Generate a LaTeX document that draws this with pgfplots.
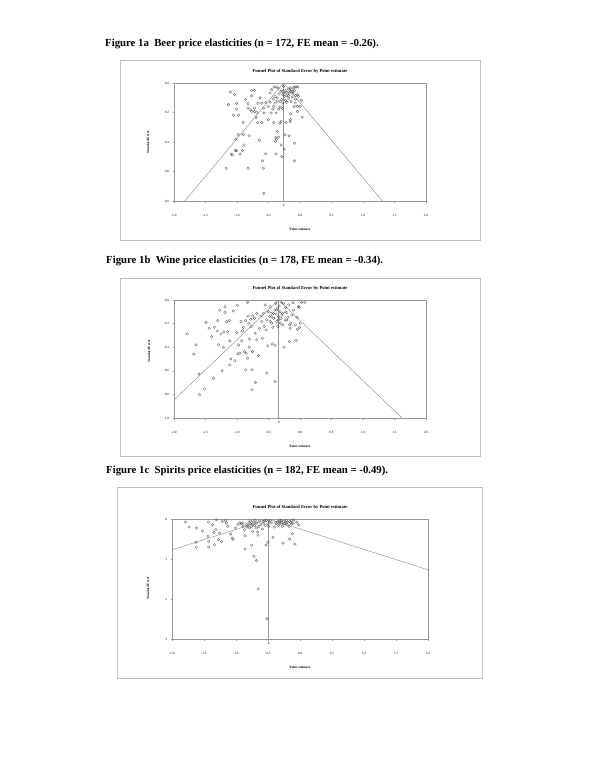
\documentclass[border=0pt]{standalone}
\usepackage{fontspec}
\setmainfont{Liberation Serif}
\usepackage{pgfplots}
\pgfplotsset{compat=1.18}

\definecolor{framegray}{RGB}{192,192,192}
\definecolor{axgray}{RGB}{150,150,150}
\definecolor{ptgray}{RGB}{85,85,85}

\pgfplotsset{
  funnel/.style={
    scale only axis,
    y dir=reverse,
    xmin=-2, xmax=2,
    xtick={-2,-1.5,-1,-0.5,0,0.5,1,1.5,2},
    /pgf/number format/assume math mode=true,
    xticklabel style={/pgf/number format/fixed,/pgf/number format/fixed zerofill,/pgf/number format/precision=1,yshift=-8bp},
    tick label style={font=\fontsize{3.3}{4}\selectfont},
    axis line style={axgray,line width=0.5pt},
    tick style={axgray,line width=0.3pt},
    major tick length=1.5bp,
    tick align=outside,
    xtick pos=lower, ytick pos=left,
    clip=false,
  },
  pts/.style={only marks, mark=o, mark size=1.3bp, mark options={ptgray,line width=0.3pt}},
  fl/.style={axgray, line width=0.5pt, no marks},
}

\newcommand{\capfont}{\fontsize{10.8}{12}\selectfont\bfseries}
\newcommand{\ttlfont}{\fontsize{4.6}{5.5}\selectfont\bfseries}
\newcommand{\lblfont}{\fontsize{3.4}{4}\selectfont\bfseries}

\begin{document}
\begin{tikzpicture}
\path[use as bounding box] (0,0) rectangle (600bp,-776bp);

% ---------- Figure 1a ----------
\node[anchor=west,inner sep=0] at (105bp,-44bp) {\capfont Figure 1a\enspace Beer price elasticities (n = 172, FE mean = -0.26).};
\draw[framegray,line width=0.8pt] (120bp,-60bp) rectangle (480bp,-240bp);
\node at (300bp,-71bp) {\ttlfont Funnel Plot of Standard Error by Point estimate};
\node[rotate=90] at (148bp,-142bp) {\lblfont Standard Error};
\node at (300bp,-229bp) {\lblfont Point estimate};
\begin{axis}[funnel, at={(174bp,-201bp)}, anchor=south west,
  width=252bp, height=118bp, ymin=0, ymax=0.8,
  ytick={0,0.2,0.4,0.6,0.8},
  yticklabel style={/pgf/number format/fixed,/pgf/number format/fixed zerofill,/pgf/number format/precision=1}]
\addplot[fl] coordinates {(-1.828,0.8) (-0.26,0) (1.308,0.8)};
\addplot[fl] coordinates {(-0.26,0) (-0.26,0.8)};
\node[font=\fontsize{3.3}{4}\selectfont,anchor=north] at (axis cs:-0.26,0.8) {0};
\addplot[pts] coordinates {
(-1.105,0.061) (-1.040,0.079) (-1.136,0.147) (-1.004,0.138) (-1.009,0.177)
(-1.057,0.218) (-0.977,0.218) (-0.903,0.268) (-0.983,0.349) (-0.898,0.349)
(-1.020,0.381) (-1.094,0.481) (-1.073,0.488) (-1.025,0.458) (-1.004,0.458)
(-0.951,0.481) (-0.914,0.458) (-0.887,0.420) (-1.174,0.578) (-0.824,0.578)
(-0.866,0.111) (-0.829,0.168) (-0.792,0.179) (-0.766,0.193) (-0.723,0.193)
(-0.824,0.138) (-0.771,0.050) (-0.723,0.050) (-0.766,0.088) (-0.665,0.138)
(-0.723,0.170) (-0.686,0.200) (-0.697,0.234) (-0.675,0.268) (-0.808,0.358)
(-0.633,0.100) (-0.606,0.136) (-0.580,0.170) (-0.606,0.268) (-0.644,0.388)
(-0.548,0.481) (-0.596,0.528) (-0.580,0.578) (-0.575,0.748) (-0.501,0.249)
(-0.570,0.204) (-0.543,0.131) (-0.506,0.159) (-0.474,0.131) (-0.458,0.204)
(-0.432,0.177) (-0.416,0.159) (-0.395,0.136) (-0.474,0.068) (-0.448,0.045)
(-0.416,0.027) (-0.374,0.027) (-0.347,0.034) (-0.426,0.109) (-0.395,0.091)
(-0.363,0.102) (-0.358,0.122) (-0.331,0.075) (-0.305,0.057) (-0.315,0.163)
(-0.337,0.177) (-0.278,0.172) (-0.379,0.204) (-0.416,0.268) (-0.321,0.272)
(-0.300,0.261) (-0.358,0.329) (-0.384,0.370) (-0.389,0.395) (-0.374,0.381)
(-0.342,0.367) (-0.300,0.420) (-0.252,0.449) (-0.384,0.481) (-0.289,0.499)
(-0.236,0.351) (-0.172,0.358) (-0.087,0.408) (-0.087,0.528) (-0.220,0.268)
(-0.157,0.261) (-0.151,0.249) (-0.146,0.209) (-0.093,0.159) (-0.040,0.159)
(-0.040,0.193) (0.003,0.159) (0.035,0.231) (0.019,0.118) (-0.024,0.091)
(-0.262,0.023) (-0.273,0.057) (-0.236,0.050) (-0.209,0.063) (-0.183,0.041)
(-0.157,0.032) (-0.130,0.045) (-0.103,0.032) (-0.077,0.027) (-0.050,0.027)
(-0.029,0.027) (-0.146,0.057) (-0.172,0.068) (-0.114,0.068) (-0.209,0.086)
(-0.246,0.091) (-0.178,0.102) (-0.125,0.095) (-0.072,0.086) (-0.040,0.079)
(-0.289,0.113) (-0.230,0.118) (-0.315,0.125) (-0.273,0.136) (-0.209,0.131)
(-0.140,0.125) (-0.072,0.109) (-0.077,0.136) (-0.236,0.068) (-0.273,0.079)
(-0.114,0.059) (-0.087,0.052) (-0.183,0.086)
};
\end{axis}

% ---------- Figure 1b ----------
\node[anchor=west,inner sep=0] at (106bp,-261bp) {\capfont Figure 1b\enspace Wine price elasticities (n = 178, FE mean = -0.34).};
\draw[framegray,line width=0.8pt] (120bp,-278bp) rectangle (480bp,-456bp);
\node at (300bp,-288bp) {\ttlfont Funnel Plot of Standard Error by Point estimate};
\node[rotate=90] at (149bp,-351bp) {\lblfont Standard Error};
\node at (300bp,-446bp) {\lblfont Point estimate};
\begin{axis}[funnel, at={(174bp,-418bp)}, anchor=south west,
  width=252bp, height=118bp, ymin=0, ymax=1,
  ytick={0,0.2,0.4,0.6,0.8,1},
  yticklabel style={/pgf/number format/fixed,/pgf/number format/fixed zerofill,/pgf/number format/precision=1}]
\addplot[fl] coordinates {(-2,0.847) (-0.34,0) (1.62,1)};
\addplot[fl] coordinates {(-0.34,0) (-0.34,1)};
\node[font=\fontsize{3.3}{4}\selectfont,anchor=north] at (axis cs:-0.34,1) {0};
\addplot[pts] coordinates {
(-1.788,0.287) (-1.650,0.380) (-1.687,0.459) (-1.603,0.628) (-1.592,0.803)
(-1.518,0.755) (-1.491,0.189) (-1.443,0.239) (-1.401,0.310) (-1.354,0.231)
(-1.306,0.175) (-1.311,0.262) (-1.295,0.380) (-1.274,0.085) (-1.253,0.287)
(-1.237,0.600) (-1.375,0.662) (-1.216,0.403) (-1.211,0.270) (-1.190,0.056)
(-1.190,0.104) (-1.152,0.268) (-1.163,0.183) (-1.121,0.175) (-1.115,0.346)
(-1.115,0.549) (-1.099,0.499) (-1.057,0.093) (-1.035,0.515) (-1.004,0.276)
(-0.994,0.045) (-0.988,0.456) (-0.977,0.380) (-0.956,0.451) (-0.935,0.183)
(-0.924,0.346) (-0.914,0.262) (-0.898,0.231) (-0.882,0.439) (-0.866,0.592)
(-0.861,0.175) (-0.855,0.451) (-0.834,0.493) (-0.834,0.020) (-0.824,0.135)
(-0.813,0.197) (-0.808,0.400) (-0.802,0.332) (-0.781,0.163) (-0.776,0.225)
(-0.760,0.592) (-0.755,0.437) (-0.760,0.761) (-0.750,0.135) (-0.723,0.155)
(-0.713,0.282) (-0.708,0.699) (-0.686,0.338) (-0.660,0.470) (-0.644,0.239)
(-0.686,0.113) (-0.617,0.135) (-0.606,0.183) (-0.596,0.324) (-0.580,0.113)
(-0.570,0.225) (-0.554,0.042) (-0.538,0.254) (-0.527,0.169) (-0.527,0.620)
(-0.511,0.389) (-0.501,0.099) (-0.485,0.141) (-0.474,0.056) (-0.458,0.113)
(-0.448,0.197) (-0.442,0.372) (-0.432,0.231) (-0.416,0.155) (-0.400,0.085)
(-0.395,0.383) (-0.395,0.690) (-0.384,0.028) (-0.379,0.118) (-0.368,0.183)
(-0.358,0.070) (-0.342,0.141) (-0.331,0.051) (-0.315,0.099) (-0.305,0.155)
(-0.289,0.023) (-0.278,0.113) (-0.262,0.028) (-0.252,0.400) (-0.236,0.169)
(-0.225,0.062) (-0.209,0.107) (-0.193,0.146) (-0.178,0.042) (-0.167,0.211)
(-0.167,0.352) (-0.157,0.239) (-0.146,0.197) (-0.130,0.127) (-0.114,0.023)
(-0.103,0.085) (-0.077,0.211) (-0.061,0.344) (-0.050,0.146) (-0.040,0.248)
(-0.024,0.056) (-0.013,0.062) (-0.008,0.231) (0.003,0.197) (0.024,0.020)
(0.077,0.020) (-0.421,0.113) (-0.368,0.085) (-0.448,0.141) (-0.342,0.169)
(-0.289,0.127) (-0.236,0.099) (-0.315,0.197) (-0.474,0.183) (-0.209,0.169)
(-0.273,0.211) (-0.352,0.225)
};
\end{axis}

% ---------- Figure 1c ----------
\node[anchor=west,inner sep=0] at (106bp,-471bp) {\capfont Figure 1c\enspace Spirits price elasticities (n = 182, FE mean = -0.49).};
\draw[framegray,line width=0.8pt] (117bp,-487bp) rectangle (482bp,-678bp);
\node at (300bp,-507bp) {\ttlfont Funnel Plot of Standard Error by Point estimate};
\node[rotate=90] at (148bp,-588bp) {\lblfont Standard Error};
\node at (300bp,-667bp) {\lblfont Point estimate};
\begin{axis}[funnel, at={(172bp,-639bp)}, anchor=south west,
  width=256bp, height=120bp, ymin=0, ymax=3,
  ytick={0,1,2,3}]
\addplot[fl] coordinates {(-2,0.770) (-0.49,0) (2,1.270)};
\addplot[fl] coordinates {(-0.49,0) (-0.49,3)};
\node[font=\fontsize{3.3}{4}\selectfont,anchor=north] at (axis cs:-0.49,3) {0};
\addplot[pts] coordinates {
(-1.786,0.075) (-1.734,0.200) (-1.620,0.226) (-1.526,0.301) (-1.625,0.585)
(-1.620,0.702) (-1.427,0.075) (-1.307,0.017) (-1.437,0.434) (-1.427,0.560)
(-1.427,0.702) (-1.333,0.643) (-1.271,0.518) (-1.370,0.142) (-1.344,0.334)
(-1.313,0.267) (-1.255,0.351) (-1.224,0.560) (-1.214,0.058) (-1.161,0.042)
(-1.151,0.100) (-1.130,0.184) (-1.083,0.376) (-1.057,0.476) (-1.047,0.518)
(-1.005,0.226) (-0.969,0.142) (-0.943,0.100) (-0.917,0.117) (-0.891,0.184)
(-0.865,0.267) (-0.859,0.418) (-0.859,0.752) (-0.839,0.142) (-0.828,0.200)
(-0.797,0.084) (-0.776,0.117) (-0.755,0.184) (-0.740,0.309) (-0.724,0.075)
(-0.703,0.033) (-0.682,0.100) (-0.677,0.226) (-0.661,0.326) (-0.656,0.401)
(-0.755,0.652) (-0.719,0.936) (-0.682,1.036) (-0.651,1.746) (-0.630,0.050)
(-0.609,0.134) (-0.589,0.251) (-0.563,0.100) (-0.542,0.159) (-0.531,0.652)
(-0.526,0.033) (-0.516,2.490) (-0.500,0.585) (-0.490,0.184) (-0.474,0.075)
(-0.438,0.100) (-0.422,0.459) (-0.401,0.200) (-0.380,0.084) (-0.344,0.058)
(-0.318,0.125) (-0.313,0.033) (-0.286,0.084) (-0.276,0.184) (-0.266,0.602)
(-0.250,0.058) (-0.234,0.109) (-0.214,0.033) (-0.188,0.075) (-0.172,0.184)
(-0.161,0.501) (-0.146,0.084) (-0.130,0.042) (-0.120,0.368) (-0.109,0.117)
(-0.094,0.025) (-0.078,0.627) (-0.047,0.075) (-0.021,0.142)
(-0.813,0.167) (-0.786,0.226) (-0.745,0.134) (-0.708,0.167) (-0.641,0.184)
(-0.578,0.067) (-0.552,0.042) (-0.500,0.125) (-0.464,0.033) (-0.370,0.117)
(-0.333,0.167) (-0.292,0.042) (-0.266,0.125) (-0.224,0.075) (-0.203,0.134)
(-0.161,0.058) (-0.135,0.125) (-0.318,0.075) (-0.771,0.050) (-0.891,0.100)
};
\end{axis}
\end{tikzpicture}
\end{document}
